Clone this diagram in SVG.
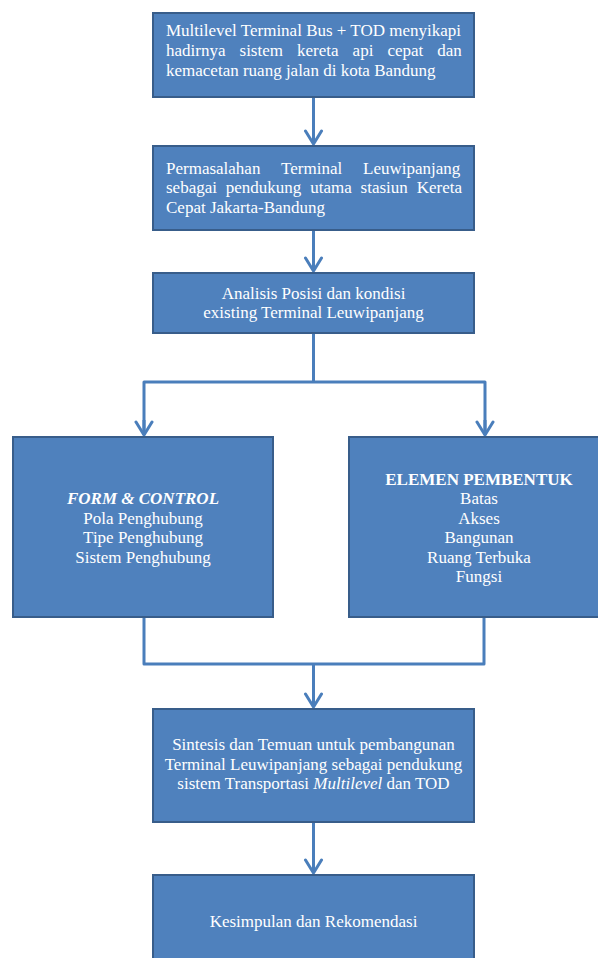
<svg xmlns="http://www.w3.org/2000/svg" width="598" height="958" viewBox="0 0 598 958">
<style>
.box{fill:#4f81bd;stroke:#385d8a;stroke-width:2}
.t{font-family:"Liberation Serif","Times New Roman",serif;font-size:17px;fill:#ffffff}
.c{text-anchor:middle}
.con{fill:none;stroke:#4a7ebb;stroke-width:3;stroke-linejoin:round}
</style>
<defs>
<marker id="arr" viewBox="-16 -11 18 22" markerWidth="18" markerHeight="22" refX="0" refY="0" orient="auto" markerUnits="userSpaceOnUse">
<path d="M-13,-8 L0,0 L-13,8" fill="none" stroke="#4a7ebb" stroke-width="3" stroke-linecap="round" stroke-linejoin="round"/>
</marker>
</defs>
<rect width="598" height="958" fill="#ffffff"/>
<g id="connectors">
<line class="con" x1="313.5" y1="97" x2="313.5" y2="144" marker-end="url(#arr)"/>
<line class="con" x1="313.5" y1="230" x2="313.5" y2="271" marker-end="url(#arr)"/>
<polyline class="con" points="313.5,333 313.5,382"/>
<polyline class="con" points="144,435 144,382 485,382 485,435"/>
<line class="con" x1="144" y1="420" x2="144" y2="435" marker-end="url(#arr)"/>
<line class="con" x1="485" y1="420" x2="485" y2="435" marker-end="url(#arr)"/>
<polyline class="con" points="144,617 144,664 484,664 484,617"/>
<line class="con" x1="313.5" y1="664" x2="313.5" y2="707" marker-end="url(#arr)"/>
<line class="con" x1="313.5" y1="822" x2="313.5" y2="873" marker-end="url(#arr)"/>
</g>
<g id="n1">
<rect class="box" x="153" y="13" width="321" height="84"/>
<text class="t" x="166" y="36">Multilevel Terminal Bus + TOD menyikapi</text>
<text class="t" x="166" y="56" word-spacing="9.8">hadirnya sistem kereta api cepat dan</text>
<text class="t" x="166" y="76">kemacetan ruang jalan di kota Bandung</text>
</g>
<g id="n2">
<rect class="box" x="153" y="146" width="321" height="84"/>
<text class="t" x="166" y="174" word-spacing="16.7">Permasalahan Terminal Leuwipanjang</text>
<text class="t" x="166" y="193" word-spacing="4.6">sebagai pendukung utama stasiun Kereta</text>
<text class="t" x="166" y="213">Cepat Jakarta-Bandung</text>
</g>
<g id="n3">
<rect class="box" x="153" y="273" width="321" height="60"/>
<text class="t c" x="313.5" y="299">Analisis Posisi dan kondisi</text>
<text class="t c" x="313.5" y="318">existing Terminal Leuwipanjang</text>
</g>
<g id="n4">
<rect class="box" x="13" y="437" width="260" height="180"/>
<text class="t c" x="143" y="504" font-weight="bold" font-style="italic">FORM &amp; CONTROL</text>
<text class="t c" x="143" y="524">Pola Penghubung</text>
<text class="t c" x="143" y="543">Tipe Penghubung</text>
<text class="t c" x="143" y="563">Sistem Penghubung</text>
</g>
<g id="n5">
<rect class="box" x="349" y="437" width="262" height="180"/>
<text class="t c" x="479" y="485" font-weight="bold">ELEMEN PEMBENTUK</text>
<text class="t c" x="479" y="504">Batas</text>
<text class="t c" x="479" y="524">Akses</text>
<text class="t c" x="479" y="543">Bangunan</text>
<text class="t c" x="479" y="563">Ruang Terbuka</text>
<text class="t c" x="479" y="582">Fungsi</text>
</g>
<g id="n6">
<rect class="box" x="153" y="709" width="321" height="113"/>
<text class="t c" x="313.5" y="750">Sintesis dan Temuan untuk pembangunan</text>
<text class="t c" x="313.5" y="770">Terminal Leuwipanjang sebagai pendukung</text>
<text class="t c" x="313.5" y="789">sistem Transportasi <tspan font-style="italic">Multilevel</tspan> dan TOD</text>
</g>
<g id="n7">
<rect class="box" x="153" y="875" width="321" height="95"/>
<text class="t c" x="313.5" y="927">Kesimpulan dan Rekomendasi</text>
</g>
</svg>
